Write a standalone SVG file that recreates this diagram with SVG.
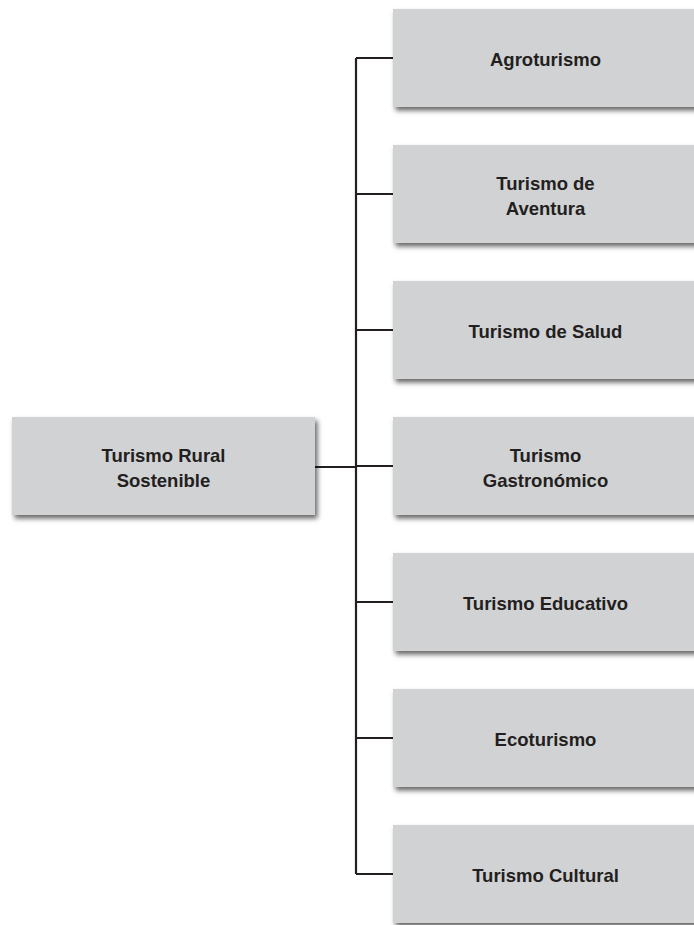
<svg xmlns="http://www.w3.org/2000/svg" width="694" height="925" viewBox="0 0 694 925">
<defs>
<filter id="sh" x="-10%" y="-20%" width="130%" height="150%">
<feDropShadow dx="2.5" dy="3.5" stdDeviation="2.5" flood-color="#000" flood-opacity="0.6"/>
</filter>
</defs>
<style>
.box{fill:#d1d2d4;filter:url(#sh)}
.t{font-family:"Liberation Sans",Arial,sans-serif;font-weight:bold;font-size:18.5px;fill:#231f20;text-anchor:middle}
.c{fill:none;stroke:#231f20;stroke-width:2.2}
</style>
<rect width="694" height="925" fill="#fff"/>
<g id="connectors">
<path class="c" d="M315 467H356M356 58V874M356 58H393M356 194H393M356 330H393M356 466H393M356 602H393M356 738H393M356 874H393"/>
</g>
<g id="root">
<rect class="box" x="12" y="417" width="303" height="98"/>
<text class="t" x="163.5" y="462">Turismo Rural</text>
<text class="t" x="163.5" y="487">Sostenible</text>
</g>
<g id="agroturismo">
<rect class="box" x="393" y="9" width="305" height="98"/>
<text class="t" x="545.5" y="66">Agroturismo</text>
</g>
<g id="aventura">
<rect class="box" x="393" y="145" width="305" height="98"/>
<text class="t" x="545.5" y="190">Turismo de</text>
<text class="t" x="545.5" y="215">Aventura</text>
</g>
<g id="salud">
<rect class="box" x="393" y="281" width="305" height="98"/>
<text class="t" x="545.5" y="338">Turismo de Salud</text>
</g>
<g id="gastronomico">
<rect class="box" x="393" y="417" width="305" height="98"/>
<text class="t" x="545.5" y="462">Turismo</text>
<text class="t" x="545.5" y="487">Gastronómico</text>
</g>
<g id="educativo">
<rect class="box" x="393" y="553" width="305" height="98"/>
<text class="t" x="545.5" y="610">Turismo Educativo</text>
</g>
<g id="ecoturismo">
<rect class="box" x="393" y="689" width="305" height="98"/>
<text class="t" x="545.5" y="746">Ecoturismo</text>
</g>
<g id="cultural">
<rect class="box" x="393" y="825" width="305" height="98"/>
<text class="t" x="545.5" y="882">Turismo Cultural</text>
</g>
</svg>
